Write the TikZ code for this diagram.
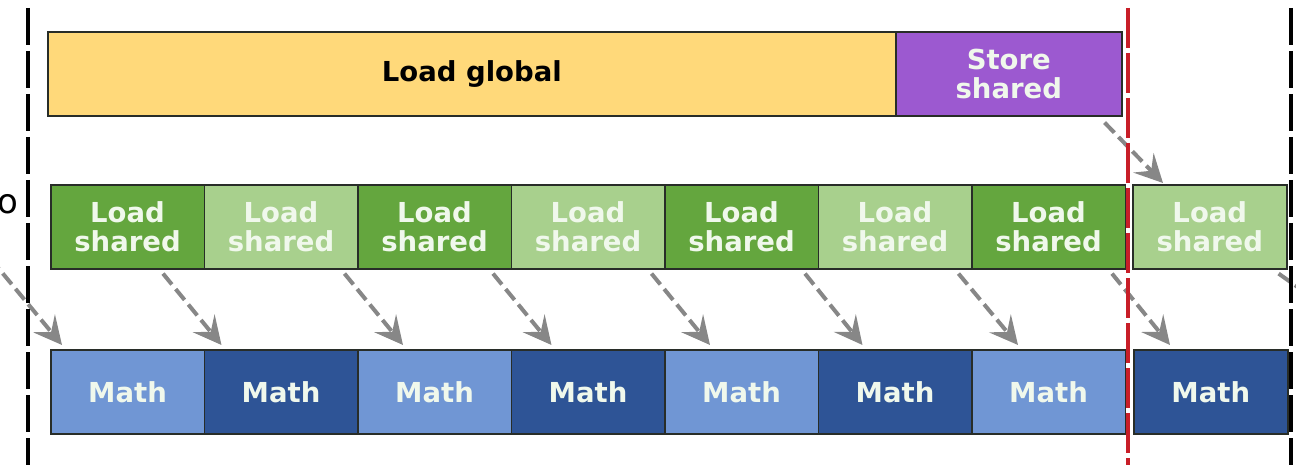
\documentclass[tikz,border=0pt]{standalone}
\usepackage{fontspec}
\setmainfont{DejaVu Sans}
\usetikzlibrary{arrows.meta,calc}
\definecolor{globalfill}{RGB}{255,217,122}
\definecolor{storefill}{RGB}{156,89,208}
\definecolor{ldark}{RGB}{100,166,62}
\definecolor{llight}{RGB}{168,208,141}
\definecolor{mlight}{RGB}{112,150,212}
\definecolor{mdark}{RGB}{46,84,150}
\definecolor{edgecol}{RGB}{40,45,40}
\definecolor{arrowgray}{RGB}{135,135,135}
\definecolor{syncred}{RGB}{200,30,40}
\definecolor{softwhite}{RGB}{240,248,236}
\begin{document}
\begin{tikzpicture}[x=1pt,y=-1pt,
  cell/.style={draw=edgecol, line width=1.6pt, inner sep=0pt, anchor=north west,
    minimum height=84pt, align=center,
    font=\bfseries\fontsize{27.5}{29}\selectfont},
  flow/.style={draw=arrowgray, line width=4pt, dash pattern=on 14pt off 6pt,
    -{Stealth[length=28pt, width=28pt, inset=11pt]}},
  timeline/.style={line width=4pt, dash pattern=on 37pt off 6pt}]
\useasboundingbox (0,0) rectangle (1296,465);
\clip (0,0) rectangle (1296,465);

% top stage: global load followed by shared store
\node[cell, fill=globalfill, minimum width=848pt, text=black] (lg) at (47,31) {Load global};
\node[cell, fill=storefill, minimum width=226pt, text=softwhite] (ss) at (895,31) {Store\\shared};

% middle stage: shared loads, bottom stage: math
\foreach \i in {1,...,7}{
  \pgfmathsetmacro\xx{50+(\i-1)*153.5}
  \pgfmathtruncatemacro\odd{mod(\i,2)}
  \ifnum\odd=1
    \node[cell, fill=ldark, minimum width=153.5pt, text=softwhite] (ls\i) at (\xx,184) {Load\\shared};
    \node[cell, fill=mlight, minimum width=153.5pt, text=softwhite] (m\i) at (\xx,349) {Math};
  \else
    \node[cell, fill=llight, minimum width=153.5pt, text=softwhite] (ls\i) at (\xx,184) {Load\\shared};
    \node[cell, fill=mdark, minimum width=153.5pt, text=softwhite] (m\i) at (\xx,349) {Math};
  \fi
}
\node[cell, fill=llight, minimum width=154pt, text=softwhite] (ls8) at (1132,184) {Load\\shared};
\node[cell, fill=mdark, minimum width=154pt, text=softwhite] (m8) at (1133,349) {Math};

% side label
\node[anchor=east, inner sep=0pt, font=\fontsize{34}{36}\selectfont] (lbl) at (19,204) {o};

% dependencies
\coordinate (inleft) at (-10,258);
\coordinate (outright) at (1330,310);
\draw[flow] (inleft) -- ($(m1.north west)+(12,-4)$);
\foreach \i/\so/\eo in {1/113/18, 2/141/46, 3/136/41, 4/141/46, 5/141/45, 6/141/47, 7/141/37}{
  \pgfmathtruncatemacro\j{\i+1}
  \draw[flow] ($(ls\i.south west)+(\so,4)$) -- ($(m\j.north west)+(\eo,-4)$);
}
\draw[flow] ($(ss.south east)+(-18,6)$) -- ($(ls8.north west)+(31,-1)$);
\draw[draw=arrowgray, line width=4pt, dash pattern=on 14pt off 6pt]
  ($(ls8.south east)+(-9,4)$) -- (outright);

% iteration boundaries
\coordinate (lt) at (28,8);  \coordinate (lb) at (28,465);
\coordinate (rt) at (1291,8); \coordinate (rb) at (1291,465);
\coordinate (st) at (1128,8); \coordinate (sb) at (1128,465);
\draw[timeline, black] (lt) -- (lb);
\draw[timeline, black] (rt) -- (rb);
\draw[timeline, syncred, dash pattern=on 40pt off 5pt] (st) -- (sb);
\end{tikzpicture}
\end{document}
